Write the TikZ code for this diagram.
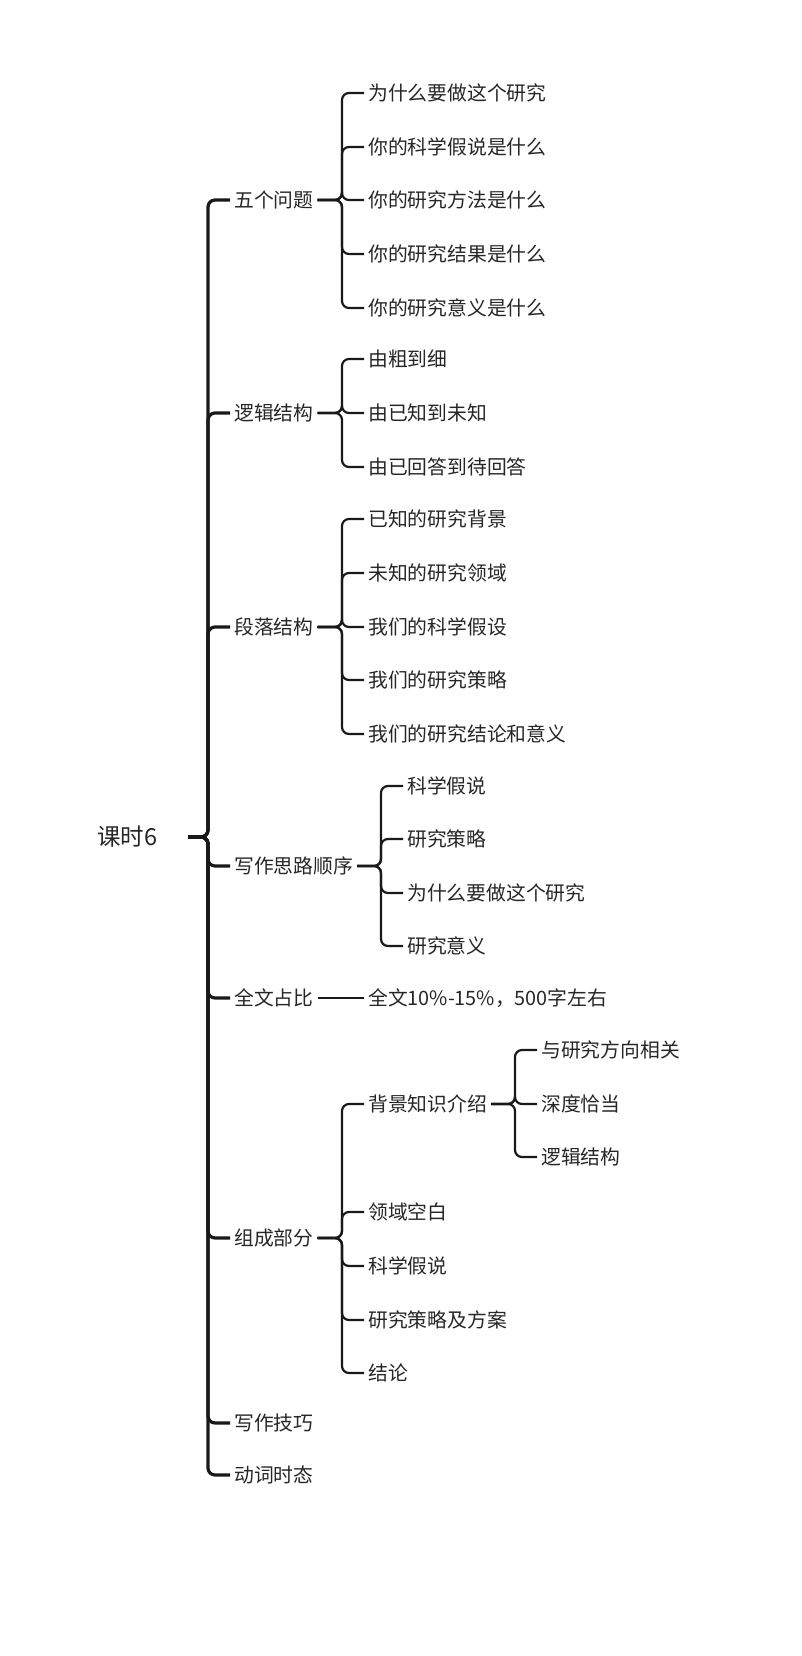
\documentclass[tikz,border=0pt]{standalone}
\usepackage{fontspec}
\setmainfont{Noto Sans CJK SC}
\begin{document}
\begin{tikzpicture}[x=1pt,y=-1pt,
  txt/.style={anchor=west,inner xsep=4pt,inner ysep=2pt,font=\fontsize{19.8}{23}\selectfont,text=black!85},
  trunk/.style={line width=3.2pt,rounded corners=7pt,draw=black!90},
  branch/.style={line width=2.2pt,rounded corners=7pt,draw=black!90}]
\useasboundingbox (0,0) rectangle (802,1656);

% root
\node[anchor=west,inner sep=2pt,font=\fontsize{23.5}{27}\selectfont,text=black!85] (root) at (95,837) {课时6};

% level one
\foreach \t/\y/\n in {五个问题/200/wu,逻辑结构/413/lj,段落结构/627/dl,写作思路顺序/866/xz,全文占比/998/qw,组成部分/1238/zc,写作技巧/1423/jq,动词时态/1475/sd}
{
  \node[txt] (\n) at (230,\y) {\t};
  \draw[trunk] (188,837) -- (208,837) -- (208,\y) -- (\n.west);
}

% 五个问题
\foreach \t/\y [count=\i] in {为什么要做这个研究/93,你的科学假说是什么/147,你的研究方法是什么/200,你的研究结果是什么/254,你的研究意义是什么/308}
{
  \node[txt] (wu\i) at (364,\y) {\t};
  \draw[branch] (wu.east) -- (342,200) -- (342,\y) -- (wu\i.west);
}

% 逻辑结构
\foreach \t/\y [count=\i] in {由粗到细/359,由已知到未知/413,由已回答到待回答/467}
{
  \node[txt] (lj\i) at (364,\y) {\t};
  \draw[branch] (lj.east) -- (342,413) -- (342,\y) -- (lj\i.west);
}

% 段落结构
\foreach \t/\y [count=\i] in {已知的研究背景/519,未知的研究领域/573,我们的科学假设/627,我们的研究策略/680,我们的研究结论和意义/734}
{
  \node[txt] (dl\i) at (364,\y) {\t};
  \draw[branch] (dl.east) -- (342,627) -- (342,\y) -- (dl\i.west);
}

% 写作思路顺序
\foreach \t/\y [count=\i] in {科学假说/786,研究策略/839,为什么要做这个研究/893,研究意义/946}
{
  \node[txt] (xz\i) at (403,\y) {\t};
  \draw[branch] (xz.east) -- (381,866) -- (381,\y) -- (xz\i.west);
}

% 全文占比
\node[txt] (qw1) at (364,998) {全文10\%-15\%，500字左右};
\draw[branch] (qw.east) -- (qw1.west);

% 组成部分
\foreach \t/\y [count=\i] in {背景知识介绍/1104,领域空白/1212,科学假说/1266,研究策略及方案/1320,结论/1373}
{
  \node[txt] (zc\i) at (364,\y) {\t};
  \draw[branch] (zc.east) -- (342,1238) -- (342,\y) -- (zc\i.west);
}

% 背景知识介绍
\foreach \t/\y [count=\i] in {与研究方向相关/1050,深度恰当/1104,逻辑结构/1157}
{
  \node[txt] (bj\i) at (537,\y) {\t};
  \draw[branch] (zc1.east) -- (515,1104) -- (515,\y) -- (bj\i.west);
}
\end{tikzpicture}
\end{document}
